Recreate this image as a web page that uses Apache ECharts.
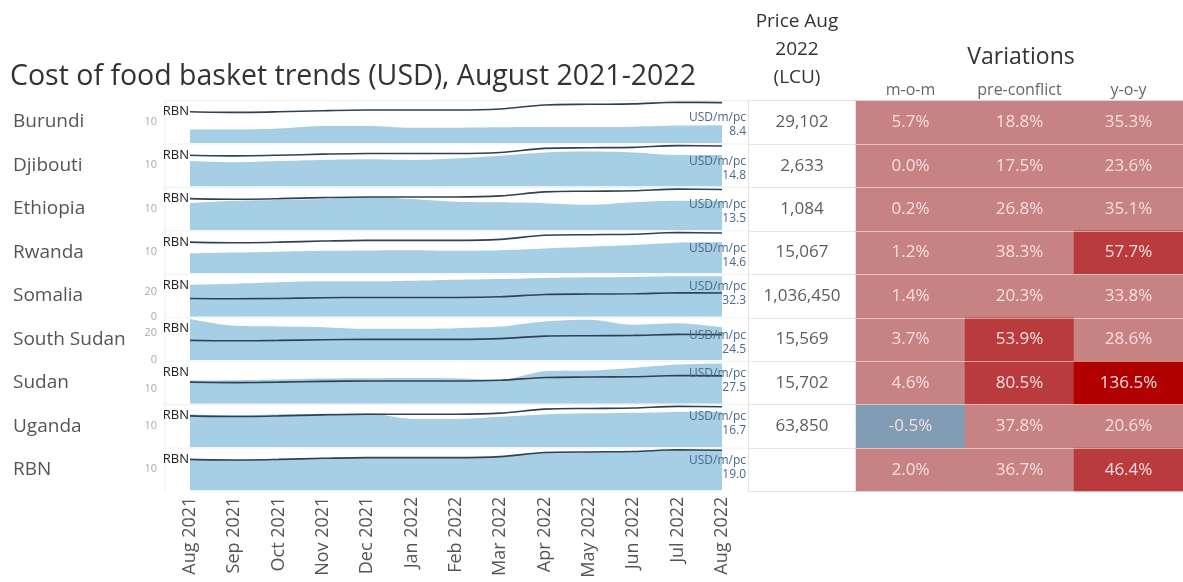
<!DOCTYPE html>
<html>
<head>
<meta charset="utf-8">
<script src="https://cdn.jsdelivr.net/npm/echarts@6/dist/echarts.min.js"></script>
<style>
html, body { margin: 0; padding: 0; background: #fff; }
#main { width: 1183px; height: 582px; }
</style>
</head>
<body>
<div id="main"></div>
<script>
// données
var months = ['Aug 2021', 'Sep 2021', 'Oct 2021', 'Nov 2021', 'Dec 2021', 'Jan 2022', 'Feb 2022',
              'Mar 2022', 'Apr 2022', 'May 2022', 'Jun 2022', 'Jul 2022', 'Aug 2022'];
var countries = ['Burundi', 'Djibouti', 'Ethiopia', 'Rwanda', 'Somalia', 'South Sudan', 'Sudan', 'Uganda', 'RBN'];

var rbn        = [14.7, 14.4, 14.7, 15.2, 15.5, 15.5, 15.5, 16.0, 17.9, 18.2, 18.4, 19.2, 19.0];
var burundi    = [6.3, 6.3, 6.8, 8.0, 8.0, 7.2, 7.2, 7.4, 7.5, 7.5, 7.7, 8.2, 8.4];
var djibouti   = [12.0, 11.4, 12.0, 12.5, 12.8, 12.5, 13.2, 14.5, 16.0, 16.4, 16.0, 14.8, 14.8];
var ethiopia   = [12.6, 13.7, 14.1, 14.6, 15.4, 14.6, 13.3, 13.0, 12.6, 11.8, 13.0, 13.7, 13.5];
var rwanda     = [9.4, 9.8, 10.2, 10.6, 10.8, 10.9, 10.6, 10.9, 11.7, 12.5, 13.3, 14.4, 14.6];
var somalia    = [25.7, 26.5, 27.6, 28.4, 28.4, 28.9, 29.7, 30.3, 31.1, 31.6, 31.9, 32.4, 32.3];
var southSudan = [30.5, 25.5, 25.0, 24.5, 23.3, 23.3, 23.8, 25.0, 28.8, 30.0, 26.3, 27.5, 24.5];
var sudan      = [15.8, 16.0, 16.5, 17.2, 17.4, 17.6, 17.4, 16.3, 22.1, 22.6, 24.4, 26.7, 27.5];
var uganda     = [15.4, 15.1, 15.4, 15.7, 15.9, 13.3, 13.3, 14.3, 15.4, 15.9, 16.2, 16.6, 16.7];

var prices = ['29,102', '2,633', '1,084', '15,067', '1,036,450', '15,569', '15,702', '63,850', ''];
var mom = [5.7, 0.0, 0.2, 1.2, 1.4, 3.7, 4.6, -0.5, 2.0];
var preConflict = [18.8, 17.5, 26.8, 38.3, 20.3, 53.9, 80.5, 37.8, 36.7];
var yoy = [35.3, 23.6, 35.1, 57.7, 33.8, 28.6, 136.5, 20.6, 46.4];
var varColumns = ['m-o-m', 'pre-conflict', 'y-o-y'];

// échelles par ligne et graduations affichées
var axisMax  = [20, 20, 20, 20, 34, 31.5, 29, 20, 20];
var axisStep = [10, 10, 10, 10, 20, 20, 10, 10, 10];
var tickShown = [[10], [10], [10], [10], [0, 20], [0, 20], [10], [10], [10]];

var rows = [burundi, djibouti, ethiopia, rwanda, somalia, southSudan, sudan, uganda, rbn];
var font = '"Open Sans", "Noto Sans", sans-serif';

function rowTop(i) { return 100.5 + i * 43.45; }

var myChart = echarts.init(document.getElementById('main'));

var grids = [], xAxes = [], yAxes = [], series = [], graphics = [];

for (var i = 0; i < rows.length; i++) {
    grids.push({ left: 190, width: 532, top: rowTop(i), height: 42.5 });
    xAxes.push({
        type: 'category', gridIndex: i, data: months, boundaryGap: false,
        axisLine: { show: false }, axisTick: { show: false },
        axisLabel: {
            show: i === rows.length - 1, rotate: 90, interval: 0, margin: 6,
            color: '#555', fontSize: 18, fontFamily: font
        }
    });
    yAxes.push({
        type: 'value', gridIndex: i, min: 0, max: axisMax[i], interval: axisStep[i],
        splitLine: { show: false }, axisLine: { show: false }, axisTick: { show: false },
        axisLabel: {
            color: '#aaa', fontSize: 11, margin: 33, fontFamily: font,
            showMinLabel: true, showMaxLabel: false,
            formatter: (function (keep) {
                return function (v) { return keep.indexOf(v) >= 0 ? String(v) : ''; };
            })(tickShown[i])
        }
    });
    series.push({
        type: 'line', xAxisIndex: i, yAxisIndex: i, data: rows[i],
        smooth: 0.3, showSymbol: false, silent: true,
        lineStyle: { width: 0 },
        areaStyle: { color: '#a6cee4', opacity: 1 }
    });
    series.push({
        type: 'line', xAxisIndex: i, yAxisIndex: i, data: rbn,
        smooth: 0.3, showSymbol: false, silent: true,
        lineStyle: { color: '#2f4154', width: 1.6 }
    });

    var last = rows[i][rows[i].length - 1];
    var lblY = rowTop(i) + (last / axisMax[i] > 0.8 ? 12 : 17.5);
    graphics.push(
        { type: 'text', x: 13, y: rowTop(i) + 21.5, z: 100,
          style: { text: countries[i], font: '19px ' + font, fill: '#555', verticalAlign: 'middle' } },
        { type: 'text', x: 189, y: rowTop(i) + 11, z: 100,
          style: { text: 'RBN', font: '13px ' + font, fill: '#222', align: 'right', verticalAlign: 'middle' } },
        { type: 'text', x: 746, y: lblY, z: 100,
          style: { text: 'USD/m/pc', font: '12px ' + font, fill: '#4a6a8a', align: 'right', verticalAlign: 'middle' } },
        { type: 'text', x: 746, y: lblY + 14, z: 100,
          style: { text: last.toFixed(1), font: '12px ' + font, fill: '#4a6a8a', align: 'right', verticalAlign: 'middle' } },
        { type: 'line', shape: { x1: 165, y1: rowTop(i), x2: 748, y2: rowTop(i) },
          style: { stroke: '#f0f0f0', lineWidth: 1 }, z: -1 }
    );
}
graphics.push({ type: 'line', shape: { x1: 165, y1: rowTop(0), x2: 165, y2: rowTop(9) },
                style: { stroke: '#eeeeee', lineWidth: 1 }, z: -1 });

// tableau : colonne des prix
var pg = rows.length;
grids.push({ left: 748, width: 108, top: rowTop(0), height: 43.45 * 9 });
xAxes.push({ type: 'category', gridIndex: pg, data: ['price'], show: false });
yAxes.push({
    type: 'category', gridIndex: pg, data: countries, inverse: true,
    axisLabel: { show: false }, axisTick: { show: false },
    axisLine: { show: true, lineStyle: { color: '#e3e3e3' } },
    splitLine: { show: true, lineStyle: { color: '#e6e6e6' } }
});
series.push({
    type: 'scatter', xAxisIndex: pg, yAxisIndex: pg, silent: true,
    data: countries.map(function (c, r) { return [0, r]; }),
    symbolSize: 1, itemStyle: { color: 'rgba(0,0,0,0)' },
    label: {
        show: true, position: 'inside', color: '#333', fontSize: 17, fontFamily: font,
        formatter: function (p) { return prices[p.dataIndex]; }
    }
});

// tableau : variations
var vg = pg + 1;
grids.push({ left: 856, right: 0, top: rowTop(0), height: 43.45 * 9 });
xAxes.push({
    type: 'category', gridIndex: vg, data: varColumns, position: 'top',
    axisLine: { show: false }, axisTick: { show: false },
    axisLabel: { color: '#666', fontSize: 16, margin: 2, interval: 0, hideOverlap: false, fontFamily: font }
});
yAxes.push({
    type: 'category', gridIndex: vg, data: countries, inverse: true, z: 10,
    axisLabel: { show: false }, axisTick: { show: false }, axisLine: { show: false },
    splitLine: { show: true, lineStyle: { color: 'rgba(255,255,255,0.5)' } }
});
var heat = [];
for (var r = 0; r < countries.length; r++) {
    heat.push([0, r, mom[r]], [1, r, preConflict[r]], [2, r, yoy[r]]);
}
var heatIndex = series.length;
series.push({
    type: 'heatmap', xAxisIndex: vg, yAxisIndex: vg, data: heat, silent: true,
    label: {
        show: true, color: '#f7dede', fontSize: 17, fontFamily: font,
        formatter: function (p) { return p.value[2].toFixed(1) + '%'; }
    },
    emphasis: { disabled: true }
});

graphics.push(
    { type: 'text', x: 10, y: 77,
      style: { text: 'Cost of food basket trends (USD), August 2021-2022', font: '28.5px ' + font,
               fill: '#333', verticalAlign: 'middle' } },
    { type: 'text', x: 797, y: 22,
      style: { text: 'Price Aug', font: '19px ' + font, fill: '#333', align: 'center', verticalAlign: 'middle' } },
    { type: 'text', x: 797, y: 50,
      style: { text: '2022', font: '19px ' + font, fill: '#333', align: 'center', verticalAlign: 'middle' } },
    { type: 'text', x: 797, y: 78,
      style: { text: '(LCU)', font: '19px ' + font, fill: '#333', align: 'center', verticalAlign: 'middle' } },
    { type: 'text', x: 1021, y: 57,
      style: { text: 'Variations', font: '23px ' + font, fill: '#333', align: 'center', verticalAlign: 'middle' } }
);

var option = {
    animation: false,
    backgroundColor: '#fff',
    grid: grids,
    xAxis: xAxes,
    yAxis: yAxes,
    visualMap: {
        type: 'piecewise', show: false, seriesIndex: heatIndex, dimension: 2,
        pieces: [
            { lt: 0, color: '#7f9cb4' },
            { gte: 0, lt: 40, color: '#c78283' },
            { gte: 40, lt: 100, color: '#ba3b3e' },
            { gte: 100, color: '#b00000' }
        ]
    },
    series: series,
    graphic: graphics
};

myChart.setOption(option);
</script>
</body>
</html>
